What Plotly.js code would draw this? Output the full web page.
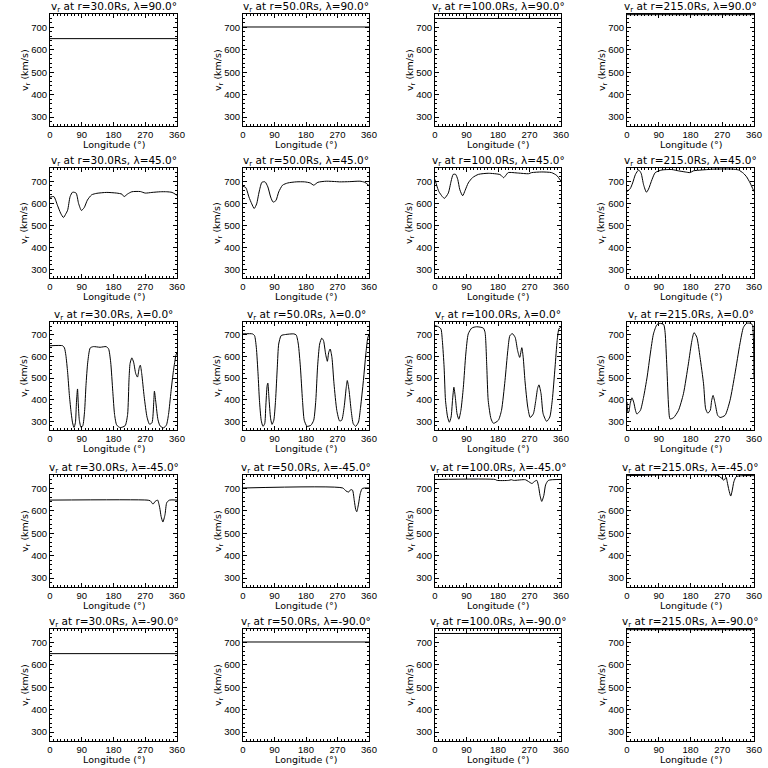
<!DOCTYPE html>
<html>
<head>
<meta charset="utf-8">
<script src="https://cdn.plot.ly/plotly-3.0.1.min.js"></script>
<style>html,body{margin:0;padding:0;background:#fff;}#chart{width:768px;height:768px;}</style>
</head>
<body>
<div id="chart"></div>
<script>
// ---------------- DATA ----------------
const radii = ["30.0", "50.0", "100.0", "215.0"];
const lats = ["90.0", "45.0", "0.0", "-45.0", "-90.0"];
const xTicks = [0, 90, 180, 270, 360];
const yTicks = [300, 400, 500, 600, 700];
const xLabel = "Longitude (°)";
const yLabel = "v<sub>r</sub> (km/s)";

// constant speed at the poles (rows lambda=90 and lambda=-90)
const polarLon = [0, 360];
const polarV = [650, 702, 740, 757];

// lambda = 45
const lon45_r30 = [0,11,21,30,38,45,50,57,64,74,81,89,97,106,118,133,161,189,204,210,220,232,256,270,289,313,331,346,360];
const v45_r30   = [627,630,591,555,535,552,568,630,650,646,599,567,580,614,638,645,649,646,641,630,642,652,653,646,649,652,652,649,636];
const lon45_r50 = [0,8,17,25,32,39,46,54,63,71,79,86,94,102,113,128,152,176,192,202,214,238,267,276,305,334,348,360];
const v45_r50   = [677,671,628,597,576,597,651,695,697,674,628,605,612,651,682,692,697,697,692,682,695,700,698,697,698,700,695,680];
const lon45_r100 = [0,5,11,21,27,38,46,52,59,65,71,79,86,95,107,124,152,186,196,202,209,238,267,276,305,333,348,360];
const v45_r100   = [708,680,653,630,622,646,700,731,731,708,661,634,658,692,716,731,736,730,716,726,739,737,734,739,742,739,726,700];
const lon45_r215 = [0,9,16,24,33,40,47,55,61,71,80,99,127,146,165,179,188,212,250,297,316,330,339,349,360];
const v45_r215   = [653,666,692,731,751,736,684,650,664,708,739,751,753,747,742,739,747,751,755,755,751,736,720,692,653];

// lambda = 0
const lon0_r30 = [0,36,41,45,50,55,60,64,68,72,75,78,80,83,88,93,98,102,107,114,123,142,159,166,172,178,183,189,199,213,220,224,227,232,237,243,248,253,256,260,267,275,282,289,294,296,300,306,312,322,330,336,343,350,357,360];
const v0_r30   = [650,650,640,606,527,420,339,293,272,294,388,450,388,308,272,280,346,466,574,640,646,643,646,636,574,438,332,283,271,280,332,495,568,594,574,521,505,548,560,521,414,320,287,293,388,440,388,308,279,270,283,332,438,535,606,620];
const lon0_r50 = [0,27,33,38,43,47,52,57,62,65,69,71,74,79,83,88,93,98,102,109,121,145,152,158,164,170,175,183,194,202,208,213,219,225,230,236,241,245,249,254,260,268,276,282,289,295,298,303,309,315,322,330,336,344,351,356,360];
const v0_r50   = [705,705,697,643,520,397,305,277,289,366,466,477,412,312,286,305,397,551,658,697,702,705,700,658,551,397,305,277,282,305,397,551,658,685,674,612,578,620,635,597,474,351,302,305,366,458,489,443,351,289,277,297,366,489,612,682,705];
const lon0_r100 = [0,10,17,21,26,30,36,41,46,50,54,58,63,68,74,81,88,95,105,119,138,143,148,152,160,167,181,190,200,208,214,221,229,236,242,248,252,257,265,272,281,288,293,297,303,309,319,328,335,343,349,354,360];
const v0_r100   = [743,738,728,674,551,397,320,296,320,397,458,412,335,310,351,458,612,705,732,738,732,712,551,397,312,291,305,351,489,628,697,706,689,628,596,641,597,489,366,318,335,397,452,469,428,335,300,320,397,551,674,728,738];
const lon0_r215 = [0,2,5,9,14,19,24,28,38,47,57,66,75,85,94,104,108,113,118,122,132,146,160,174,184,190,198,207,217,223,229,236,240,244,250,257,264,278,292,306,320,330,339,351,356,358,359,360];
const v0_r215   = [390,345,343,382,409,389,351,334,351,412,505,612,705,748,754,748,712,551,366,311,317,351,428,566,674,711,689,597,474,358,338,351,397,420,382,328,318,328,397,520,658,735,754,754,745,700,640,500];

// lambda = -45
const lon_m45_r30 = [0,275,284,292,298,305,311,315,320,326,331,339,360];
const v_m45_r30   = [648,648,645,630,642,648,614,575,550,583,637,648,648];
const lon_m45_r50 = [0,285,294,302,308,313,318,322,325,330,335,341,360];
const v_m45_r50   = [702,702,689,684,695,692,645,606,596,630,677,700,702];
const lon_m45_r100 = [0,172,177,210,218,225,258,267,277,284,291,296,300,305,311,316,324,360];
const v_m45_r100   = [740,740,736,736,739,736,739,731,722,731,736,708,669,642,669,716,736,740];
const lon_m45_r215 = [0,260,268,275,281,284,289,294,298,303,310,360];
const v_m45_r215   = [757,757,745,737,750,730,692,666,689,730,753,757];

// ---------------- LAYOUT ----------------
const W = 768, H = 768;
const colL = [50, 243, 435, 627];
const colR = [177, 369, 561, 754];
const rowT = [14, 168, 322, 475, 629];
const rowB = [126, 278, 430, 587, 741];

const series = [
  [[polarLon, [polarV[0], polarV[0]]], [polarLon, [polarV[1], polarV[1]]], [polarLon, [polarV[2], polarV[2]]], [polarLon, [polarV[3], polarV[3]]]],
  [[lon45_r30, v45_r30], [lon45_r50, v45_r50], [lon45_r100, v45_r100], [lon45_r215, v45_r215]],
  [[lon0_r30, v0_r30], [lon0_r50, v0_r50], [lon0_r100, v0_r100], [lon0_r215, v0_r215]],
  [[lon_m45_r30, v_m45_r30], [lon_m45_r50, v_m45_r50], [lon_m45_r100, v_m45_r100], [lon_m45_r215, v_m45_r215]],
  [[polarLon, [polarV[0], polarV[0]]], [polarLon, [polarV[1], polarV[1]]], [polarLon, [polarV[2], polarV[2]]], [polarLon, [polarV[3], polarV[3]]]]
];

const FONT = 'DejaVu Sans';
const TFONT = 'Liberation Sans';
const traces = [];
const layout = {
  width: W, height: H,
  margin: {l: 0, r: 0, t: 0, b: 0},
  paper_bgcolor: '#fff', plot_bgcolor: '#fff',
  showlegend: false,
  font: {family: FONT, color: '#000', size: 10},
  annotations: []
};

let n = 0;
for (let r = 0; r < 5; r++) {
  for (let c = 0; c < 4; c++) {
    n++;
    const xs = n === 1 ? '' : String(n);
    const [lon, v] = series[r][c];
    traces.push({
      x: lon, y: v, type: 'scatter', mode: 'lines',
      line: {color: '#000', width: 1, shape: 'spline', smoothing: 0.6},
      xaxis: 'x' + xs, yaxis: 'y' + xs, hoverinfo: 'skip'
    });
    const common = {
      showline: true, linecolor: '#000', linewidth: 1, mirror: 'allticks',
      ticks: 'inside', ticklen: 4, tickwidth: 1, tickcolor: '#000',
      showgrid: false, zeroline: false, fixedrange: true,
      tickfont: {family: TFONT, size: 9.5, color: '#000'}
    };
    layout['xaxis' + xs] = Object.assign({}, common, {
      domain: [colL[c] / W, colR[c] / W],
      anchor: 'y' + xs,
      range: [0, 360], tickmode: 'array', tickvals: xTicks,
      minor: {ticks: 'inside', ticklen: 2, dtick: 10, tickcolor: '#000', tickwidth: 1}
    });
    layout['yaxis' + xs] = Object.assign({}, common, {
      domain: [1 - rowB[r] / H, 1 - rowT[r] / H],
      anchor: 'x' + xs,
      range: [260, 760], tickmode: 'array', tickvals: yTicks,
      minor: {ticks: 'inside', ticklen: 2, dtick: 20, tickcolor: '#000', tickwidth: 1}
    });
    const cx = (colL[c] + colR[c]) / 2;
    const cy = (rowT[r] + rowB[r]) / 2;
    // subplot title
    layout.annotations.push({
      xref: 'paper', yref: 'paper',
      x: cx / W, y: 1 - (rowT[r] - 7) / H,
      xanchor: 'center', yanchor: 'middle', showarrow: false,
      text: 'v<sub>r</sub> at r=' + radii[c] + 'Rs, λ=' + lats[r] + '°',
      font: {family: FONT, size: 10.5, color: '#000'}
    });
    // x axis title
    layout.annotations.push({
      xref: 'paper', yref: 'paper',
      x: cx / W, y: 1 - (rowB[r] + 18) / H,
      xanchor: 'center', yanchor: 'middle', showarrow: false,
      text: xLabel, font: {family: FONT, size: 9.5, color: '#000'}
    });
    // y axis title
    layout.annotations.push({
      xref: 'paper', yref: 'paper',
      x: (colL[c] - 25) / W, y: 1 - cy / H,
      xanchor: 'center', yanchor: 'middle', showarrow: false, textangle: -90,
      text: yLabel, font: {family: FONT, size: 9.5, color: '#000'}
    });
  }
}

Plotly.newPlot('chart', traces, layout, {staticPlot: true, displayModeBar: false});
</script>
</body>
</html>
